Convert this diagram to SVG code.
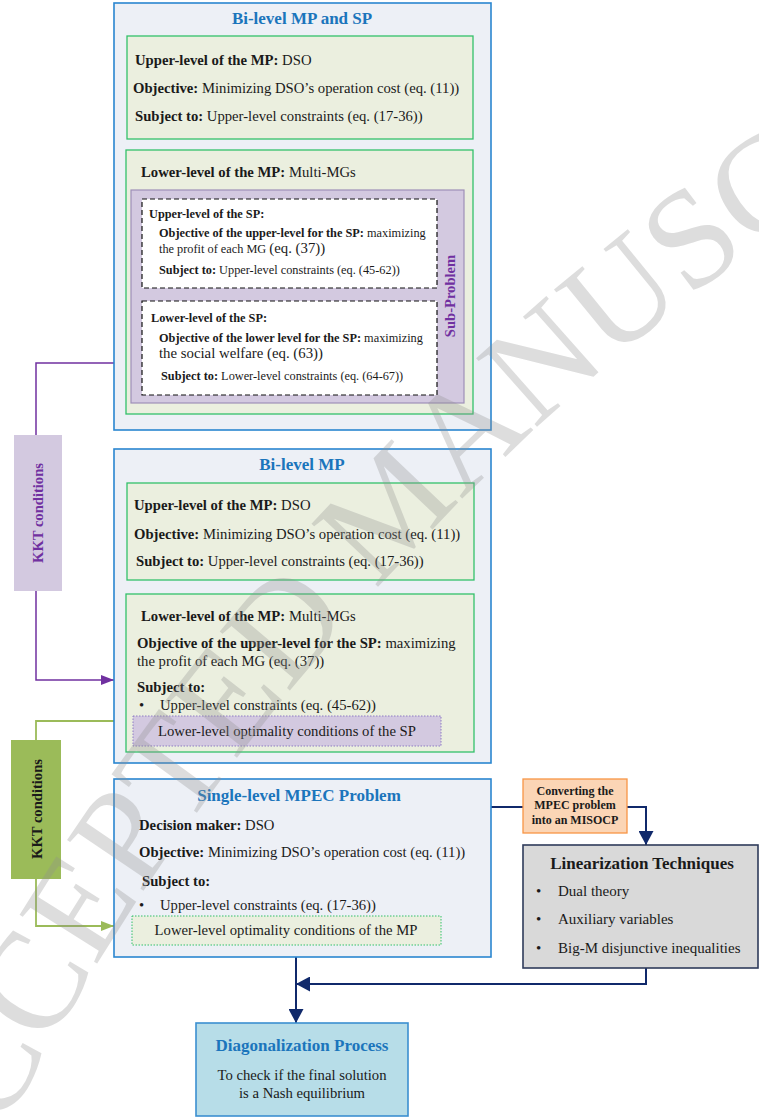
<svg xmlns="http://www.w3.org/2000/svg" width="759" height="1117" viewBox="0 0 759 1117">
<style>
text{font-family:"Liberation Serif","Times New Roman",serif;fill:#1a1a1a}
.m{font-size:14.7px}
.s{font-size:12.3px}
.b{font-weight:bold}
.ttl{font-size:17px;font-weight:bold;fill:#1b75bc}
.kkt{font-size:14.6px;font-weight:bold}
.outer{fill:#edf0f6;stroke:#2a86d0;stroke-width:1.6}
.green{fill:#ebefdf;stroke:#33c06a;stroke-width:1.3}
.dash{fill:#fff;stroke:#111;stroke-width:1.2;stroke-dasharray:5 3}
.navy{fill:none;stroke:#10296b;stroke-width:2}
</style>
<defs>
<marker id="ap" markerUnits="userSpaceOnUse" markerWidth="14" markerHeight="10" refX="13" refY="5" orient="auto"><path d="M0,0 L13,5 L0,10 z" fill="#7030a0"/></marker>
<marker id="ag" markerUnits="userSpaceOnUse" markerWidth="14" markerHeight="10" refX="13" refY="5" orient="auto"><path d="M0,0 L13,5 L0,10 z" fill="#9bbb59"/></marker>
<marker id="an" markerUnits="userSpaceOnUse" markerWidth="15" markerHeight="15" refX="14" refY="7.5" orient="auto"><path d="M0,0 L14,7.5 L0,15 z" fill="#10296b"/></marker>
<path id="wm" d="M-117,1410 A2498,2498 0 0 1 1174,0"/>
</defs>

<g id="connectors">
<path d="M114,363 H36 V435 M36,591 V680 H114" fill="none" stroke="#7030a0" stroke-width="1.5" marker-end="url(#ap)"/>
<path d="M114,721 H36 V740 M36,879 V926 H114" fill="none" stroke="#9bbb59" stroke-width="1.8" marker-end="url(#ag)"/>
<path class="navy" d="M491,807 H523"/>
<path class="navy" d="M627,807 H646 V845" marker-end="url(#an)"/>
<path class="navy" d="M646,968 V984 H296" marker-end="url(#an)"/>
<path class="navy" d="M296,957 V1023" marker-end="url(#an)"/>
</g>

<g id="bilevel-mp-sp">
<rect class="outer" x="114" y="3" width="377" height="427"/>
<text class="ttl" x="302" y="24" text-anchor="middle">Bi-level MP and SP</text>
<g id="upper-mp-1">
<rect class="green" x="127" y="36" width="346" height="103"/>
<text class="m" x="135" y="65"><tspan class="b">Upper-level of the MP:</tspan> DSO</text>
<text class="m" x="133" y="93"><tspan class="b">Objective:</tspan> Minimizing DSO’s operation cost (eq. (11))</text>
<text class="m" x="135" y="121"><tspan class="b">Subject to:</tspan> Upper-level constraints (eq. (17-36))</text>
</g>
<g id="lower-mp-1">
<rect class="green" x="126" y="150" width="347" height="264"/>
<text class="m" x="141" y="177"><tspan class="b">Lower-level of the MP:</tspan> Multi-MGs</text>
<g id="sub-problem">
<rect x="131" y="190" width="333" height="213" fill="#d3c9e0" stroke="#9e8fb8" stroke-width="1.2"/>
<text class="kkt" transform="translate(455,296) rotate(-90)" text-anchor="middle" style="fill:#7030a0">Sub-Problem</text>
<g id="upper-sp">
<rect class="dash" x="142" y="199" width="295" height="89"/>
<text class="s b" x="149" y="218">Upper-level of the SP:</text>
<text class="s" x="159" y="237"><tspan class="b">Objective of the upper-level for the SP:</tspan> maximizing</text>
<text class="s" x="159" y="253">the profit of each MG <tspan style="font-size:14.8px">(eq. (37))</tspan></text>
<text class="s" x="159" y="274"><tspan class="b">Subject to:</tspan> Upper-level constraints (eq. (45-62))</text>
</g>
<g id="lower-sp">
<rect class="dash" x="142" y="301" width="295" height="94"/>
<text class="s b" x="151" y="322">Lower-level of the SP:</text>
<text class="s" x="159" y="342"><tspan class="b">Objective of the lower level for the SP:</tspan> maximizing</text>
<text x="159" y="358" style="font-size:14.8px">the social welfare (eq. (63))</text>
<text class="s" x="161" y="380"><tspan class="b">Subject to:</tspan> Lower-level constraints (eq. (64-67))</text>
</g>
</g>
</g>
</g>

<g id="kkt-1">
<rect x="14" y="435" width="48" height="156" fill="#d3c9e0"/>
<text class="kkt" transform="translate(43,513) rotate(-90)" text-anchor="middle" style="fill:#7030a0">KKT conditions</text>
</g>

<g id="bilevel-mp">
<rect class="outer" x="114" y="449" width="377" height="314"/>
<text class="ttl" x="302" y="470" text-anchor="middle">Bi-level MP</text>
<g id="upper-mp-2">
<rect class="green" x="127" y="483" width="347" height="97"/>
<text class="m" x="134" y="510"><tspan class="b">Upper-level of the MP:</tspan> DSO</text>
<text class="m" x="134" y="539"><tspan class="b">Objective:</tspan> Minimizing DSO’s operation cost (eq. (11))</text>
<text class="m" x="136" y="566"><tspan class="b">Subject to:</tspan> Upper-level constraints (eq. (17-36))</text>
</g>
<g id="lower-mp-2">
<rect class="green" x="126" y="594" width="348" height="158"/>
<text class="m" x="141" y="621"><tspan class="b">Lower-level of the MP:</tspan> Multi-MGs</text>
<text class="m" x="137" y="648"><tspan class="b">Objective of the upper-level for the SP:</tspan> maximizing</text>
<text class="m" x="137" y="666">the profit of each MG (eq. (37))</text>
<text class="m b" x="137" y="692">Subject to:</text>
<text class="m" x="139" y="710">•</text>
<text class="m" x="160" y="710">Upper-level constraints (eq. (45-62))</text>
<rect x="133" y="716" width="308" height="30" fill="#d3c9e0" stroke="#8e7cc3" stroke-width="1" stroke-dasharray="1.5 1.5"/>
<text class="m" x="287" y="736" text-anchor="middle">Lower-level optimality conditions of the SP</text>
</g>
</g>

<g id="kkt-2">
<rect x="11" y="740" width="50" height="139" fill="#9bbb59"/>
<text class="kkt" transform="translate(42,809) rotate(-90)" text-anchor="middle">KKT conditions</text>
</g>

<g id="mpec">
<rect class="outer" x="114" y="779" width="377" height="178"/>
<text class="ttl" x="299" y="801" text-anchor="middle">Single-level MPEC Problem</text>
<text class="m" x="139" y="830"><tspan class="b">Decision maker:</tspan> DSO</text>
<text class="m" x="139" y="857"><tspan class="b">Objective:</tspan> Minimizing DSO’s operation cost (eq. (11))</text>
<text class="m b" x="142" y="886">Subject to:</text>
<text class="m" x="139" y="910">•</text>
<text class="m" x="160" y="910">Upper-level constraints (eq. (17-36))</text>
<rect x="132" y="916" width="309" height="29" fill="#ebefdf" stroke="#33c06a" stroke-width="1" stroke-dasharray="1.5 1.5"/>
<text class="m" x="286" y="935" text-anchor="middle">Lower-level optimality conditions of the MP</text>
</g>

<g id="converting">
<rect x="523" y="779" width="104" height="54" fill="#fbd5b5" stroke="#f79646" stroke-width="1.3"/>
<text class="b" x="575" y="795" text-anchor="middle" style="font-size:12px">Converting the</text>
<text class="b" x="575" y="809" text-anchor="middle" style="font-size:12px">MPEC problem</text>
<text class="b" x="575" y="824" text-anchor="middle" style="font-size:12px">into an MISOCP</text>
</g>

<g id="linearization">
<rect x="523" y="845" width="235" height="123" fill="#d9d9d9" stroke="#2f3b5a" stroke-width="1.6"/>
<text class="b" x="642" y="869" text-anchor="middle" style="font-size:17px">Linearization Techniques</text>
<text x="536" y="896" style="font-size:15px">•</text>
<text x="558" y="896" style="font-size:15px">Dual theory</text>
<text x="536" y="924" style="font-size:15px">•</text>
<text x="558" y="924" style="font-size:15px">Auxiliary variables</text>
<text x="536" y="953" style="font-size:15px">•</text>
<text x="558" y="953" style="font-size:15px">Big-M disjunctive inequalities</text>
</g>

<g id="diagonalization">
<rect x="196" y="1023" width="212" height="93" fill="#b7dde8" stroke="#3b8fd0" stroke-width="1.6"/>
<text class="ttl" x="302" y="1051" text-anchor="middle">Diagonalization Process</text>
<text class="m" x="302" y="1080" text-anchor="middle">To check if the final solution</text>
<text class="m" x="302" y="1098" text-anchor="middle">is a Nash equilibrium</text>
</g>

<text style="font-size:140px;fill:#909090;opacity:0.3"><textPath href="#wm" startOffset="204">ACCEPTED MANUSCRIPT</textPath></text>
</svg>
